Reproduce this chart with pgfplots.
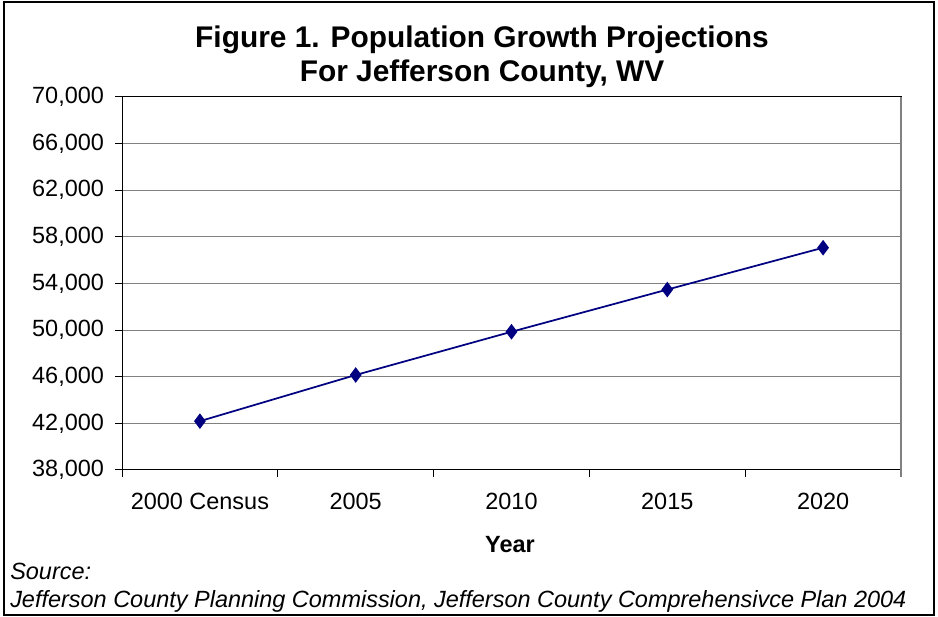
\documentclass[border=0pt]{standalone}
\usepackage{fontspec}
\setmainfont{Liberation Sans}
\usepackage{pgfplots}
\pgfplotsset{compat=1.18}
\definecolor{navy}{RGB}{0,0,128}
\definecolor{gridgray}{RGB}{128,128,128}
\begin{document}
\begin{tikzpicture}
\useasboundingbox (0pt,0pt) rectangle (703.5pt,462.75pt);
\draw[line width=1.5pt] (3pt,1.5pt) rectangle (700.5pt,461.25pt);
\begin{axis}[
  at={(91.5pt,110.25pt)}, anchor=south west, scale only axis,
  width=584.25pt, height=279.75pt,
  xmin=0, xmax=5, ymin=38000, ymax=70000,
  ytick={38000,42000,...,70000},
  scaled y ticks=false,
  xtick={0,1,2,3,4,5}, xticklabels={},
  extra x ticks={0.5,1.5,2.5,3.5,4.5},
  extra x tick labels={2000 Census,2005,2010,2015,2020},
  extra x tick style={major tick length=0pt, grid=none},
  tick pos=left,
  ymajorgrids,
  grid style={gridgray, line width=0.75pt},
  tick align=outside, major tick length=5pt,
  tick style={black, line width=0.75pt},
  axis line style={black, line width=0.75pt},
  yticklabel={\pgfmathprintnumber[1000 sep={,}, assume math mode=true]{\tick}},
  ticklabel style={font=\fontsize{17.6}{20}\selectfont},
  yticklabel style={xshift=-5pt},
  xticklabel style={yshift=-14pt},
  clip=false,
]
\addplot[navy, line width=1.3pt, mark=diamond*, mark size=4.8pt, mark options={fill=navy, draw=navy}]
  coordinates {(0.5,42190) (1.5,46150) (2.5,49860) (3.5,53480) (4.5,57070)};
\draw[gridgray, line width=1.5pt] (rel axis cs:1,0) ++(0pt,-5pt) -- (rel axis cs:1,1);
\end{axis}
\begin{scope}[x=0.75pt,y=0.75pt]
\node[anchor=base, font=\bfseries\fontsize{22.4}{26}\selectfont, inner sep=0pt] at (482,569) {Figure 1. Population Growth Projections};
\node[anchor=base, font=\bfseries\fontsize{22.4}{26}\selectfont, inner sep=0pt] at (482,535) {For Jefferson County, WV};
\node[anchor=base, font=\bfseries\fontsize{17.6}{20}\selectfont, inner sep=0pt] at (510,64) {Year};
\node[anchor=base west, font=\itshape\fontsize{17.6}{20}\selectfont, inner sep=0pt] at (10,37) {Source:};
\node[anchor=base west, font=\itshape\fontsize{17.6}{20}\selectfont, inner sep=0pt] at (10,9) {Jefferson County Planning Commission, Jefferson County Comprehensivce Plan 2004};
\end{scope}
\end{tikzpicture}
\end{document}
